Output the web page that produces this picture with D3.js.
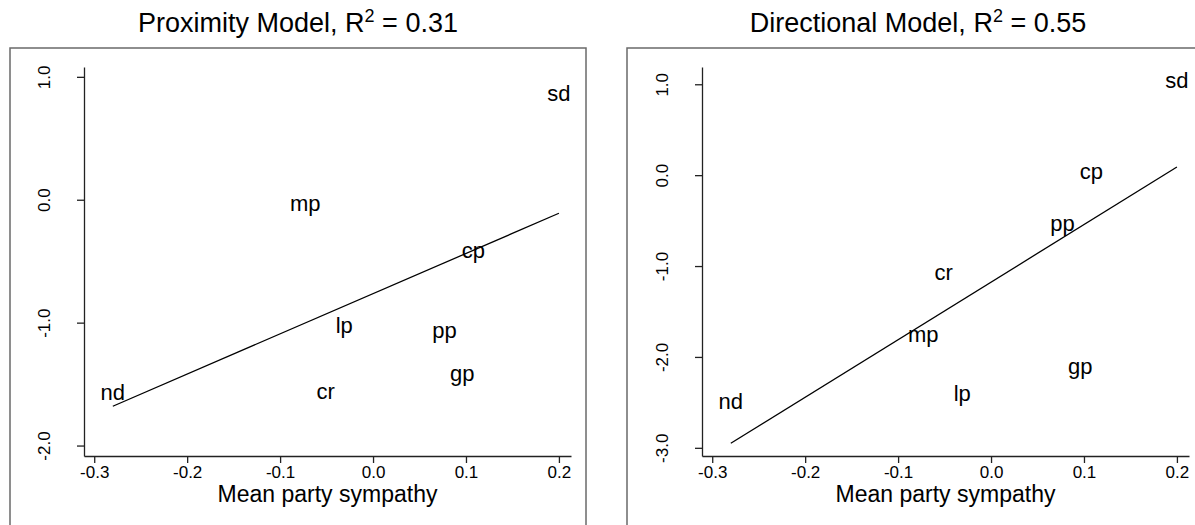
<!DOCTYPE html>
<html>
<head>
<meta charset="utf-8">
<script src="https://cdn.jsdelivr.net/npm/d3@7"></script>
<style>
  body { margin: 0; background: #fff; }
  text { font-family: "Liberation Sans", Arial, sans-serif; fill: #000; }
</style>
</head>
<body>
<script>
const width = 1195,
    height = 525;

// party labels and mean party sympathy (shared x)
const parties = ["sd", "mp", "cp", "lp", "pp", "gp", "cr", "nd"];
const sympathy = [0.2, -0.073, 0.108, -0.031, 0.077, 0.096, -0.051, -0.28];

// model predictions per party
const proximity = [0.87, -0.03, -0.41, -1.02, -1.06, -1.41, -1.56, -1.57];
const directional = [1.04, -1.75, 0.04, -2.40, -0.53, -2.10, -1.07, -2.49];

// fitted regression lines (ends)
const fitX = [-0.28, 0.2];
const proximityFit = [-1.68, -0.11];
const directionalFit = [-2.95, 0.09];

const xTicks = [-0.3, -0.2, -0.1, 0.0, 0.1, 0.2];
const proximityTicks = [1, 0, -1, -2];
const directionalTicks = [1, 0, -1, -2, -3];

const panels = [
    {name: "Proximity Model", r2: "0.31", y: proximity, fit: proximityFit, ticks: proximityTicks,
     yDomain: [-2.085, 1.08], left: 84, box: [10, 586], titleX: 298},
    {name: "Directional Model", r2: "0.55", y: directional, fit: directionalFit, ticks: directionalTicks,
     yDomain: [-3.09, 1.19], left: 702, box: [627, 1206], titleX: 918}
];

const plotW = 487,
    plotTop = 67,
    plotBottom = 456;

const fmt = d => d.toFixed(1);

const svg = d3.select("body").append("svg")
    .attr("width", width)
    .attr("height", height);

panels.forEach(function (p) {
    const g = svg.append("g");

    // outer figure box
    g.append("rect")
        .attr("x", p.box[0])
        .attr("y", 48)
        .attr("width", p.box[1] - p.box[0])
        .attr("height", 500)
        .attr("fill", "none")
        .attr("stroke", "#6a6a6a")
        .attr("stroke-width", 1.5);

    const x = d3.scaleLinear()
        .domain([-0.311, 0.213])
        .range([p.left, p.left + plotW]);

    const y = d3.scaleLinear()
        .domain(p.yDomain)
        .range([plotBottom, plotTop]);

    // x axis
    const xa = g.append("g")
        .attr("transform", "translate(0," + plotBottom + ")")
        .call(d3.axisBottom(x).tickValues(xTicks).tickFormat(fmt).tickSize(7).tickSizeOuter(0));
    xa.selectAll("text")
        .attr("y", 10)
        .attr("dy", "0.71em")
        .style("font-size", "17px");

    // y axis
    const ya = g.append("g")
        .attr("transform", "translate(" + p.left + ",0)")
        .call(d3.axisLeft(y).tickValues(p.ticks).tickFormat(fmt).tickSize(7).tickSizeOuter(0));
    ya.selectAll("text")
        .attr("x", null)
        .attr("dy", null)
        .attr("text-anchor", "middle")
        .attr("transform", "translate(-34,0) rotate(-90)")
        .style("font-size", "17px");

    g.selectAll(".domain, .tick line")
        .attr("stroke", "#222")
        .attr("stroke-width", 1.3);

    // title
    const t = g.append("text")
        .attr("x", p.titleX)
        .attr("y", 32)
        .attr("text-anchor", "middle")
        .style("font-size", "27px");
    t.append("tspan").text(p.name + ", R");
    t.append("tspan").attr("dy", -10).style("font-size", "18px").text("2");
    t.append("tspan").attr("dy", 10).text(" = " + p.r2);

    // axis title
    g.append("text")
        .attr("x", p.left + plotW / 2)
        .attr("y", 502)
        .attr("text-anchor", "middle")
        .style("font-size", "23px")
        .text("Mean party sympathy");

    // regression line
    g.append("line")
        .attr("x1", x(fitX[0]))
        .attr("y1", y(p.fit[0]))
        .attr("x2", x(fitX[1]))
        .attr("y2", y(p.fit[1]))
        .attr("stroke", "#000")
        .attr("stroke-width", 1.3);

    // party labels
    g.selectAll(".party")
        .data(parties)
        .enter().append("text")
        .attr("class", "party")
        .attr("x", (d, i) => x(sympathy[i]))
        .attr("y", (d, i) => y(p.y[i]))
        .attr("dy", "0.35em")
        .attr("text-anchor", "middle")
        .style("font-size", "22px")
        .text(d => d);
});
</script>
</body>
</html>
